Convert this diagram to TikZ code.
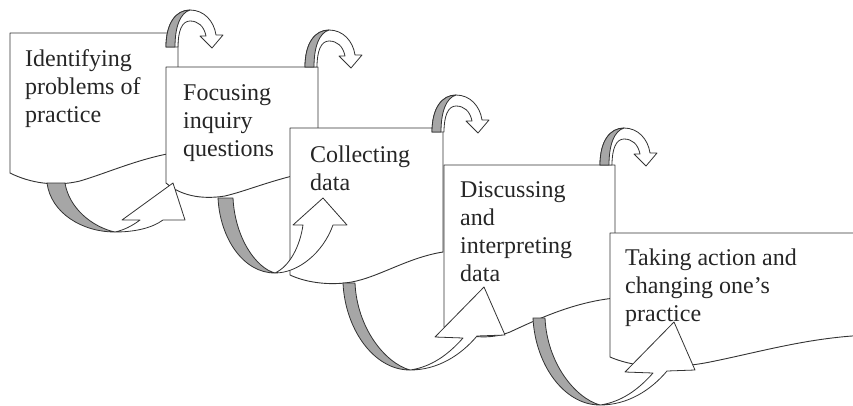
\documentclass[tikz,border=0pt]{standalone}
\usepackage{fontspec}
\setmainfont{Liberation Serif}

\tikzset{
  sheet/.style={draw=black!80, line width=0.9pt, fill=white, line join=round},
  fold/.style={draw=black!80, line width=0.8pt, fill=black!35, line join=round},
  flat/.style={draw=black!80, line width=0.8pt, fill=white, line join=round},
  stagetext/.style={anchor=north west, inner sep=0pt, align=left,
    font=\fontsize{24}{28}\selectfont, text=black!85}
}

% curled arrow sitting on the top right corner of a sheet
\newcommand{\topcurl}[2]{%
  \begin{scope}[shift={(#1,#2)}]
    \path[flat] (-6,0) .. controls (-6,-24) and (4,-37) .. (18,-37)
      .. controls (32,-37) and (42,-26) .. (44,-12) -- (51,-12) -- (40,1)
      -- (28,-11) -- (34,-11) .. controls (32,-21) and (26,-26) .. (18,-26)
      .. controls (10,-26) and (6,-16) .. (6,0) -- cycle;
    \path[fold] (-6,0) .. controls (-6,-24) and (4,-37) .. (18,-37)
      .. controls (8,-34) and (3,-20) .. (3,0) -- cycle;
  \end{scope}}

\begin{document}
\begin{tikzpicture}[x=1pt, y=-1pt]
\clip (0,0) rectangle (853,405);

    % Sheet 1
    \path[sheet] (178,33) -- (10,33) -- (10,173) .. controls (30,183) and (55,187) .. (80,181)
      .. controls (110,172) and (140,158) .. (178,152) -- cycle;
    \node[stagetext] (s1) at (25,49) {Identifying\\problems of\\practice};
    \topcurl{172}{47}

    % Sheet 2
    \path[sheet] (318,67) -- (166,67) -- (166,183) .. controls (180,195) and (200,200) .. (225,196)
      .. controls (250,190) and (270,180) .. (318,170) -- cycle;
    \node[stagetext] (s2) at (183,84) {Focusing\\inquiry\\questions};

    % Loop from sheet 1 into sheet 2
    \begin{scope}[shift={(47,183)}]
      \path[fold] (0,0) .. controls (4,30) and (35,49) .. (68,49)
        .. controls (45,44) and (22,25) .. (18,0) -- cycle;
      \path[flat] (68,49) .. controls (88,49) and (105,45) .. (116,37) -- (138,37) -- (126,0)
        -- (75,37) -- (93,37) .. controls (85,43) and (77,47) .. (68,49) -- cycle;
    \end{scope}
    \topcurl{311}{67}

    % Sheet 3
    \path[sheet] (443,128) -- (290,128) -- (290,275) .. controls (305,282) and (325,285) .. (345,283)
      .. controls (375,280) and (405,258) .. (443,252) -- cycle;
    \node[stagetext] (s3) at (310,146) {Collecting\\data};

    % Loop from sheet 2 into sheet 3
    \begin{scope}[shift={(218,198)}]
      \path[fold] (0,0) .. controls (2,40) and (25,75) .. (57,75)
        .. controls (38,70) and (17,40) .. (15,0) -- cycle;
      \path[flat] (57,75) .. controls (80,75) and (105,55) .. (115,27) -- (129,27) -- (105,0)
        -- (75,27) -- (85,27) .. controls (82,48) and (72,68) .. (57,75) -- cycle;
    \end{scope}
    \topcurl{438}{132}

    % Sheet 4
    \path[sheet] (615,165) -- (444,165) -- (444,327) .. controls (465,338) and (490,340) .. (510,332)
      .. controls (540,318) and (575,302) .. (615,298) -- cycle;
    \node[stagetext] (s4) at (460,181) {Discussing\\and\\interpreting\\data};

    % Loop from sheet 3 into sheet 4
    \begin{scope}[shift={(343,283)}]
      \path[fold] (0,0) .. controls (2,45) and (30,87) .. (67,87)
        .. controls (42,80) and (14,45) .. (12,0) -- cycle;
      \path[flat] (67,87) .. controls (95,87) and (118,72) .. (134,53) -- (162,52) -- (141,4)
        -- (92,54) -- (120,55) .. controls (105,72) and (88,84) .. (67,87) -- cycle;
    \end{scope}
    \topcurl{606}{165}

    % Sheet 5
    \path[sheet] (870,233) -- (610,233) -- (610,357) .. controls (640,370) and (680,368) .. (710,362)
      .. controls (760,352) and (810,337) .. (870,335) -- cycle;
    \node[stagetext] (s5) at (625,249) {Taking action and\\changing one’s\\practice};

    % Loop from sheet 4 into sheet 5
    \begin{scope}[shift={(533,318)}]
      \path[fold] (0,0) .. controls (2,45) and (30,87) .. (67,87)
        .. controls (42,80) and (14,45) .. (12,0) -- cycle;
      \path[flat] (67,87) .. controls (95,87) and (118,72) .. (134,53) -- (162,52) -- (141,4)
        -- (92,54) -- (120,55) .. controls (105,72) and (88,84) .. (67,87) -- cycle;
    \end{scope}

\end{tikzpicture}
\end{document}
